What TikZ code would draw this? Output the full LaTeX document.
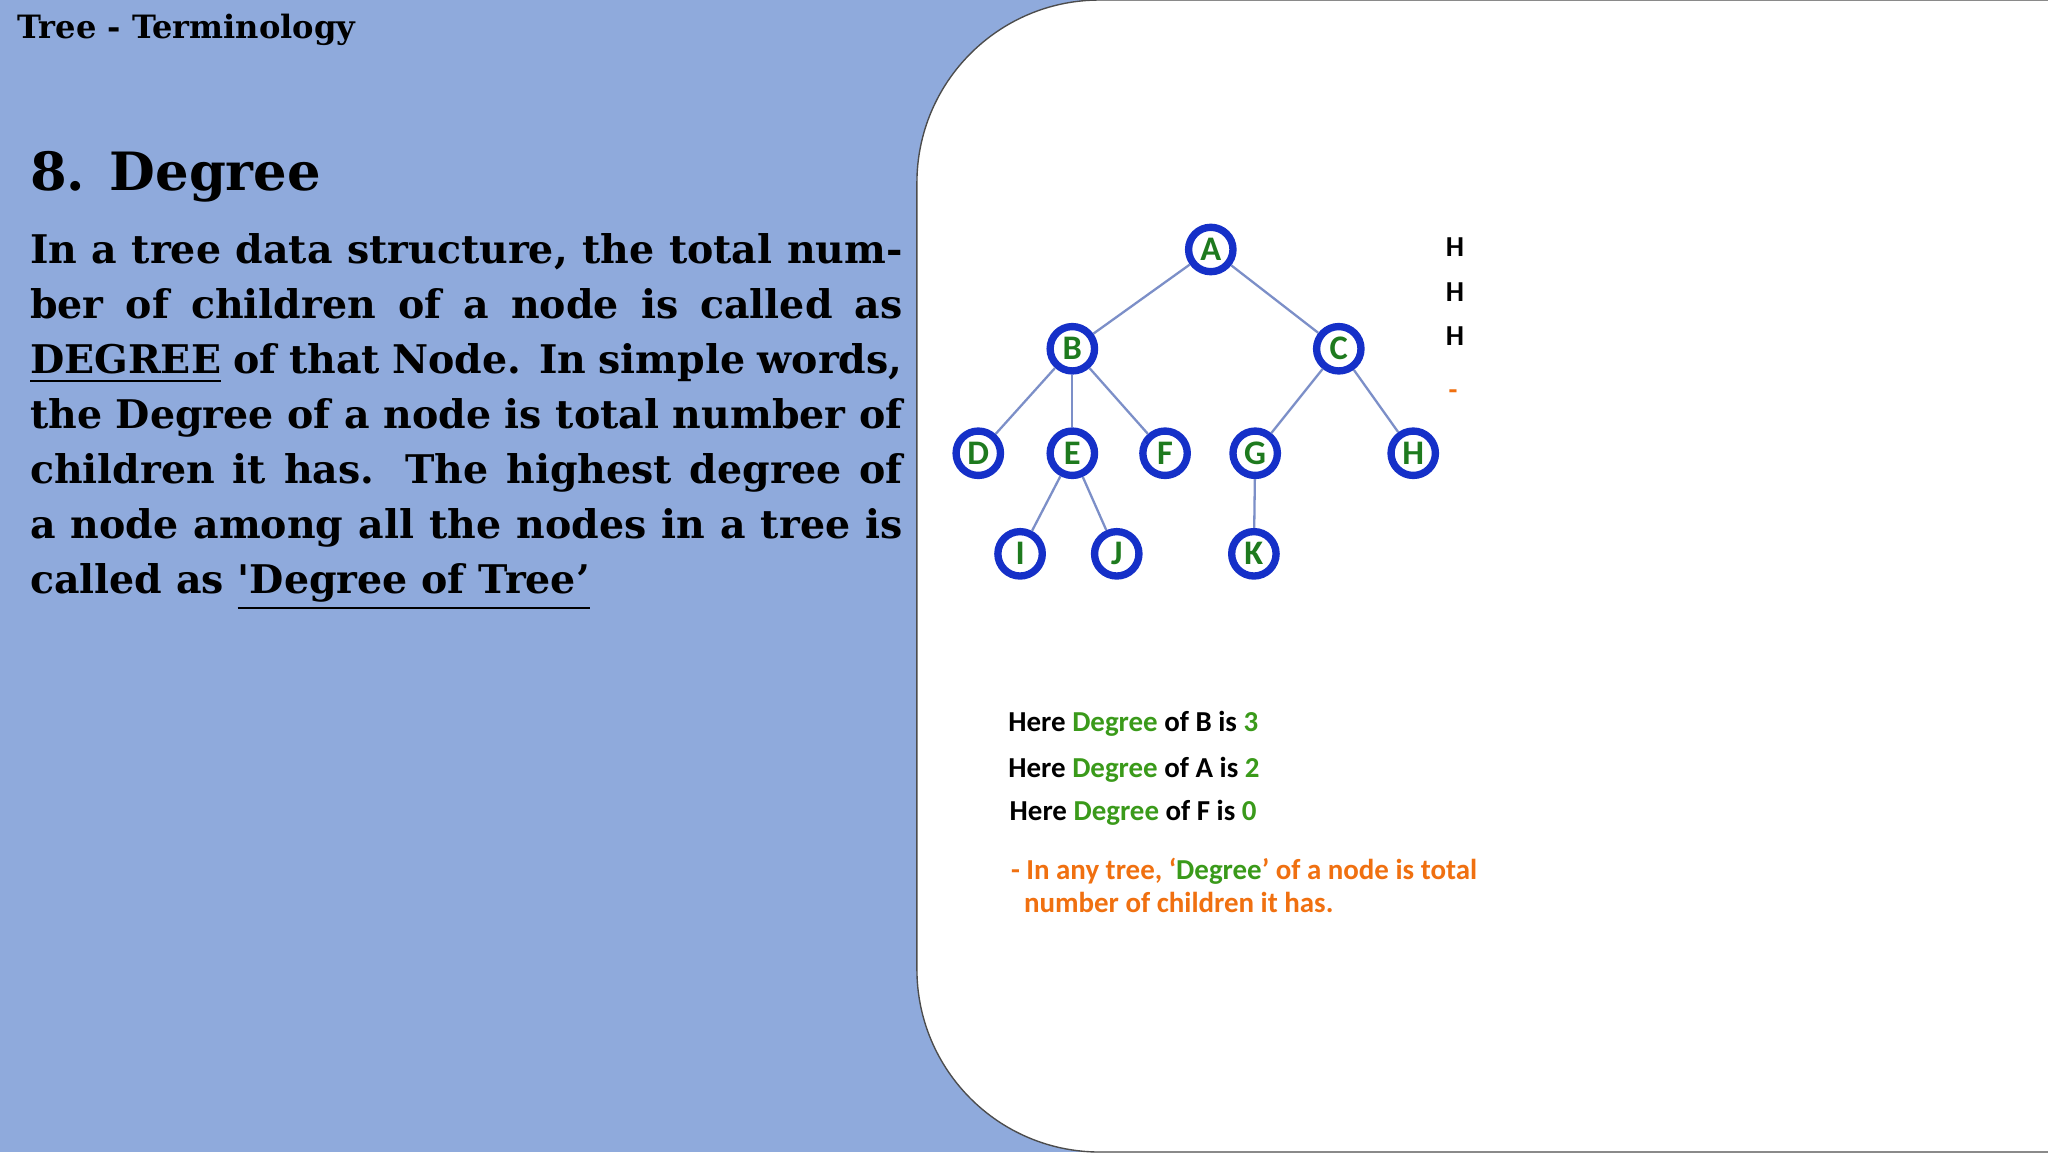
\documentclass[tikz,border=0pt]{standalone}
\usepackage{fontspec}
\setmainfont{DejaVu Serif}
\newfontfamily\slidesans{Carlito}
\usetikzlibrary{positioning}
\definecolor{slideblue}{HTML}{8FAADC}
\definecolor{ringblue}{HTML}{1530C8}
\definecolor{lettergreen}{HTML}{1E7A1E}
\definecolor{degreen}{HTML}{3A9A1A}
\definecolor{noteorange}{HTML}{F07010}
\definecolor{edgegrey}{HTML}{7C8FC8}

\begin{document}
\begin{tikzpicture}[x=1cm,y=-1cm,semithick]
  \tikzstyle{tnode}=[circle,draw=ringblue,line width=1.6pt,fill=white,minimum size=0.34cm,inner sep=0pt,
                     text=lettergreen,font=\slidesans\bfseries\fontsize{7.5}{8}\selectfont]
  \tikzstyle{tedge}=[draw=edgegrey,line width=0.5pt]
  \tikzstyle{note}=[anchor=west,inner sep=0pt,font=\slidesans\bfseries\fontsize{6.3}{7.6}\selectfont]

  \fill[slideblue] (0,0) rectangle (15.68,8.82);
  \useasboundingbox (0,0) rectangle (15.68,8.82);
  \fill[white,draw=black!70,line width=0.3pt] (15.7,0) -- (8.42,0) arc[start angle=270,end angle=180,radius=1.4]
        -- (7.02,7.42) arc[start angle=180,end angle=90,radius=1.4] -- (15.7,8.82);

  \node[anchor=west,inner sep=0pt,font=\bfseries\fontsize{7}{8}\selectfont] (title) at (0.12,0.23) {Tree - Terminology};
  \node[anchor=west,inner sep=0pt,font=\bfseries\fontsize{11.5}{13}\selectfont] (head) at (0.22,1.35) {8. Degree};
  \node[anchor=north west,inner sep=0pt,text width=6.68cm,align=justify,
        font=\bfseries\fontsize{8.6}{11.95}\selectfont] (body) at (0.22,1.78)
    {\hyphenpenalty=10000 In a tree data structure, the total number of children of a node is called as \underline{DEGREE} of that Node. In simple words, the Degree of a node is total number of children it has. The highest degree of a node among all the nodes in a tree is called as \underline{\textquotesingle Degree of Tree’}};

  \node[tnode] (A) at (9.27,1.91) {A};
  \node[tnode] (B) at (8.21,2.67) {B};
  \node[tnode] (C) at (10.25,2.67) {C};
  \node[tnode] (D) at (7.49,3.47) {D};
  \node[tnode] (E) at (8.21,3.47) {E};
  \node[tnode] (F) at (8.92,3.47) {F};
  \node[tnode] (G) at (9.61,3.47) {G};
  \node[tnode] (H) at (10.82,3.47) {H};
  \node[tnode] (I) at (7.81,4.24) {I};
  \node[tnode] (J) at (8.55,4.24) {J};
  \node[tnode] (K) at (9.60,4.24) {K};

  \path[tedge] (A) edge (B) edge (C)
        (B) edge (D) edge (E) edge (F)
        (C) edge (G) edge (H)
        (E) edge (I) edge (J)
        (G) edge (K);

  \node[note] (h1) at (11.06,1.89) {H};
  \node[note] (h2) at (11.06,2.24) {H};
  \node[note] (h3) at (11.06,2.57) {H};
  \node[note,text=noteorange] (dash) at (11.08,3.02) {-};

  \node[note] (bdeg) at (7.71,5.54) {Here \textcolor{degreen}{Degree} of B is \textcolor{degreen}{3}};
  \node[note] (adeg) at (7.71,5.89) {Here \textcolor{degreen}{Degree} of A is \textcolor{degreen}{2}};
  \node[note] (fdeg) at (7.72,6.22) {Here \textcolor{degreen}{Degree} of F is \textcolor{degreen}{0}};
  \node[note,anchor=north west,text=noteorange,align=left] (rule) at (7.73,6.56)
    {- In any tree, ‘\textcolor{degreen}{Degree}’ of a node is total\\[-0.5pt]\hspace*{0.1cm}number of children it has.};
\end{tikzpicture}
\end{document}
